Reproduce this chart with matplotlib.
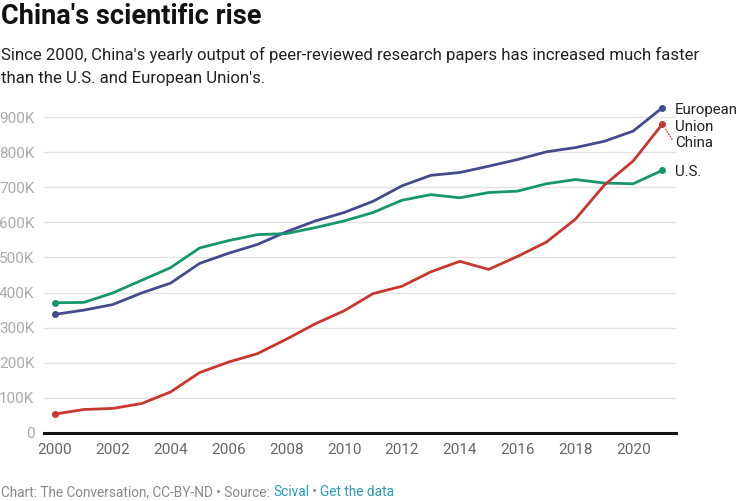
import matplotlib
matplotlib.use("Agg")
import matplotlib.pyplot as plt
from matplotlib.ticker import FuncFormatter

years = list(range(2000, 2022))
eu = [338, 350, 366, 399, 427, 483, 512, 537, 573, 604, 628, 660, 704, 734, 742, 760, 779, 801, 813, 831, 860, 926]
us = [371, 372, 399, 435, 471, 527, 548, 565, 568, 585, 604, 628, 663, 679, 670, 685, 689, 710, 722, 712, 710, 748]
china = [54, 67, 70, 84, 117, 172, 202, 226, 267, 311, 348, 397, 418, 459, 489, 466, 503, 544, 609, 706, 775, 879]
yticks = [0, 100, 200, 300, 400, 500, 600, 700, 800, 900]
xticks = list(range(2000, 2021, 2))

C_EU = "#454a8c"
C_US = "#15966b"
C_CN = "#c8372d"

plt.rcParams['font.family'] = ['Roboto', 'DejaVu Sans']
W, H = 750, 501
fig = plt.figure(figsize=(W / 100, H / 100), dpi=100)

x0, x1 = 44, 676
yb, yt = 433, 99.5
ax = fig.add_axes([x0 / W, 1 - yb / H, (x1 - x0) / W, (yb - yt) / H])
ax.set_xlim(1999.62, 2021.48)
ax.set_ylim(0, 950)

for vals, c in ((eu, C_EU), (us, C_US), (china, C_CN)):
    ax.plot(years, vals, color=c, lw=2.0, solid_joinstyle='round', zorder=3)
    ax.plot([years[0], years[-1]], [vals[0], vals[-1]], 'o', color=c, ms=4, zorder=4)

ax.set_yticks(yticks)
ax.yaxis.set_major_formatter(FuncFormatter(lambda v, p: "0" if v == 0 else f"{int(v)}K"))
ax.set_xticks(xticks)
ax.grid(axis='y', color='#e3e3e3', lw=1)
ax.set_axisbelow(True)
for s in ('top', 'right', 'left'):
    ax.spines[s].set_visible(False)
ax.spines['bottom'].set_color('#111111')
ax.spines['bottom'].set_linewidth(2.2)
ax.tick_params(axis='y', length=0, labelsize=11, labelcolor='#aaaaaa', pad=7)
ax.tick_params(axis='x', length=0, labelsize=11, labelcolor='#666666', pad=7)

# end labels
lx = 2021.45
for txt, yv in (("European", 920), ("Union", 872), ("China", 826), ("U.S.", 744)):
    ax.text(lx, yv, txt, color='#222222', fontsize=10.8, va='center', ha='left', clip_on=False)
ax.annotate("", xy=(2021.05, 875), xytext=(2021.4, 830),
            arrowprops=dict(arrowstyle='-', color=C_CN, lw=0.8, ls=(0, (1, 1.5))))

fig.text(1 / W, 1 - 17 / H, "China's scientific rise", fontsize=19.5, fontweight='bold',
         color='#111111', va='center', ha='left')
fig.text(1 / W, 1 - 55 / H,
         "Since 2000, China's yearly output of peer-reviewed research papers has increased much faster",
         fontsize=12.1, color='#222222', va='center', ha='left')
fig.text(1 / W, 1 - 78 / H, "than the U.S. and European Union's.",
         fontsize=12.1, color='#222222', va='center', ha='left')

# footer
parts = [("Chart: The Conversation, CC-BY-ND \u2022 Source: ", '#888888'),
         ("Scival", '#2a9bb5'), (" \u2022 ", '#888888'), ("Get the data", '#2a9bb5')]
fig.canvas.draw()
renderer = fig.canvas.get_renderer()
xpos = 1
for txt, col in parts:
    t = fig.text(xpos / W, 1 - 492 / H, txt, fontsize=9.8, color=col, va='center', ha='left')
    bb = t.get_window_extent(renderer=renderer)
    xpos += bb.width

fig.savefig("out.png", dpi=100, facecolor='white')
